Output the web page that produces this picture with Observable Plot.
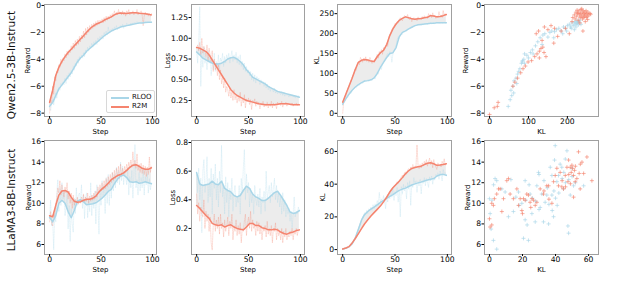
<!DOCTYPE html>
<html><head><meta charset="utf-8">
<script src="https://cdn.jsdelivr.net/npm/d3@7"></script>
<script src="https://cdn.jsdelivr.net/npm/@observablehq/plot@0.6"></script>
<style>
body{margin:0;background:#fff;}
#wrap{position:relative;width:619px;height:282px;font-family:"DejaVu Sans",sans-serif;overflow:hidden;}
#wrap svg{max-width:none;}
.rowlabel{position:absolute;font-size:10.5px;white-space:nowrap;transform:translate(-50%,-50%) rotate(-90deg);color:#111;line-height:1;}
.legend{position:absolute;left:106px;top:90px;width:47px;height:21px;border:1px solid #d8d8d8;border-radius:2px;background:rgba(255,255,255,0.85);}
.legend .sw{position:absolute;left:4px;width:18px;height:1.5px;}
.legend .lt{position:absolute;left:25px;font-size:7px;line-height:1;color:#111;}
</style></head><body><div id="wrap"></div>
<script>
// ---------- data ----------
const series = ["RLOO", "R2M"];
const rowNames = ["Qwen2.5-3B-Instruct", "LLaMA3-8B-Instruct"];
const steps = d3.range(100);            // raw logging steps
const smoothSteps = d3.range(0, 100, 3); // smoothed curve steps

// Qwen2.5-3B reward
const qRewardRaw_RLOO = [-7.6,-7.8,-7.3,-7.0,-7.4,-6.9,-6.5,-6.9,-6.3,-6.1,
 -6.3,-5.8,-6.0,-5.7,-5.9,-5.4,-5.8,-5.2,-5.5,-5.0,
 -5.3,-4.8,-5.1,-4.5,-4.8,-4.3,-4.5,-4.0,-4.3,-3.8,
 -4.0,-3.7,-3.9,-3.5,-3.8,-3.3,-3.5,-3.1,-3.4,-3.0,
 -3.2,-2.8,-3.1,-2.7,-2.9,-2.6,-2.9,-2.4,-2.7,-2.3,
 -2.5,-2.2,-2.5,-2.0,-2.3,-1.9,-2.2,-1.6,-2.0,-1.8,
 -1.9,-1.7,-1.9,-1.6,-1.8,-1.5,-1.8,-1.6,-1.7,-1.5,
 -1.6,-1.4,-1.7,-1.5,-1.6,-1.3,-1.5,-1.4,-1.5,-1.3,
 -1.45,-1.3,-1.4,-1.25,-1.4,-1.2,-1.35,-1.3,-1.3,-1.2,
 -1.35,-1.25,-1.3,-1.2,-1.3,-1.2,-1.28,-1.22,-1.3,-1.2];
const qRewardRaw_R2M = [-8.0,-7.0,-7.3,-6.0,-6.6,-5.3,-5.6,-4.9,-5.0,-4.4,
 -4.6,-4.0,-4.3,-3.9,-4.1,-3.6,-3.9,-3.4,-3.7,-3.3,
 -3.5,-3.0,-3.3,-2.8,-3.2,-2.6,-3.0,-2.5,-2.9,-2.3,
 -2.7,-2.2,-2.5,-1.9,-2.4,-1.7,-2.2,-1.6,-2.0,-1.5,
 -1.8,-1.4,-1.7,-1.3,-1.6,-1.2,-1.5,-1.1,-1.4,-1.1,
 -1.3,-1.0,-1.3,-0.9,-1.2,-0.8,-1.1,-0.8,-1.0,-0.7,
 -0.9,-0.6,-0.8,-0.4,-0.7,-0.5,-0.7,-0.3,-0.6,-0.5,
 -0.7,-0.4,-0.7,-0.5,-0.8,-0.4,-0.6,-0.3,-0.7,-0.5,
 -0.6,-0.4,-0.7,-0.5,-0.6,-0.3,-0.7,-0.5,-0.6,-0.4,
 -0.7,-1.5,-0.8,-0.5,-0.7,-0.6,-0.8,-0.6,-0.8,-0.6];
const qRewardSmooth_RLOO = [-7.5,-7.2,-6.7,-6.2,-5.9,-5.6,-5.3,-5.0,-4.6,-4.2,-3.9,-3.7,-3.4,-3.2,-3.0,-2.8,-2.6,-2.4,-2.2,-2.05,-1.9,-1.8,-1.7,-1.6,-1.55,-1.5,-1.45,-1.4,-1.35,-1.3,-1.3,-1.27,-1.25,-1.25];
const qRewardSmooth_R2M = [-7.2,-6.3,-5.2,-4.6,-4.15,-3.8,-3.5,-3.25,-3.0,-2.75,-2.5,-2.25,-2.0,-1.75,-1.55,-1.4,-1.3,-1.2,-1.05,-0.95,-0.85,-0.7,-0.6,-0.57,-0.58,-0.6,-0.57,-0.55,-0.55,-0.58,-0.6,-0.62,-0.66,-0.7];

// Qwen2.5-3B loss
const qLossRaw_RLOO = [0.84,0.70,0.95,1.38,0.42,0.85,0.65,0.90,0.70,0.78,
 0.62,0.85,0.70,0.80,0.55,0.75,0.62,0.82,0.60,0.72,
 0.65,0.80,0.62,0.76,0.72,0.82,0.66,0.78,0.70,0.80,
 0.74,0.82,0.70,0.78,0.85,0.72,0.80,0.74,0.83,0.70,
 0.78,0.68,0.80,0.66,0.72,0.62,0.70,0.60,0.66,0.58,
 0.62,0.55,0.60,0.50,0.58,0.48,0.56,0.46,0.54,0.50,
 0.52,0.44,0.50,0.46,0.48,0.42,0.47,0.40,0.45,0.38,
 0.42,0.36,0.40,0.38,0.35,0.40,0.34,0.37,0.33,0.36,
 0.34,0.32,0.36,0.31,0.35,0.30,0.34,0.31,0.33,0.29,
 0.33,0.30,0.32,0.29,0.31,0.28,0.30,0.29,0.31,0.28];
const qLossRaw_R2M = [0.88,0.92,0.85,0.95,0.80,1.00,0.82,0.90,0.86,0.78,
 0.92,0.72,0.88,0.80,0.70,0.85,0.60,0.75,0.62,0.70,
 0.55,0.68,0.50,0.62,0.45,0.55,0.40,0.52,0.35,0.42,
 0.38,0.30,0.40,0.28,0.35,0.25,0.38,0.26,0.32,0.22,
 0.30,0.24,0.35,0.18,0.28,0.22,0.32,0.16,0.27,0.24,
 0.28,0.20,0.26,0.14,0.25,0.22,0.27,0.18,0.24,0.20,
 0.23,0.15,0.22,0.19,0.24,0.17,0.21,0.18,0.23,0.16,
 0.21,0.18,0.24,0.16,0.22,0.19,0.21,0.15,0.23,0.20,
 0.22,0.19,0.24,0.17,0.22,0.20,0.23,0.18,0.22,0.20,
 0.21,0.19,0.22,0.18,0.21,0.20,0.22,0.19,0.21,0.19];
const qLossSmooth_RLOO = [0.835,0.80,0.76,0.74,0.72,0.70,0.69,0.69,0.70,0.72,0.75,0.765,0.77,0.75,0.72,0.68,0.62,0.58,0.53,0.51,0.49,0.47,0.45,0.42,0.40,0.38,0.36,0.35,0.34,0.33,0.32,0.31,0.30,0.29];
const qLossSmooth_R2M = [0.89,0.88,0.86,0.84,0.80,0.74,0.68,0.62,0.56,0.50,0.44,0.38,0.34,0.31,0.29,0.27,0.25,0.24,0.23,0.22,0.21,0.205,0.20,0.20,0.20,0.20,0.205,0.21,0.21,0.21,0.205,0.20,0.20,0.20];

// Qwen2.5-3B KL
const qKLRaw_RLOO = [20,28,32,36,42,40,48,52,50,58,
 60,62,66,64,70,72,70,76,78,75,
 80,83,80,82,84,80,83,86,82,88,
 90,86,96,102,98,112,118,110,126,130,
 136,138,146,150,142,155,148,128,150,158,
 162,170,185,192,188,196,200,198,205,204,
 208,206,212,210,215,214,218,216,220,218,
 221,220,223,222,224,221,225,222,224,225,
 226,223,226,225,227,224,226,228,225,227,
 228,226,227,225,228,226,227,229,226,227];
const qKLRaw_R2M = [0,30,38,45,55,62,66,75,80,90,
 95,100,112,108,125,130,122,140,135,128,
 138,132,142,130,136,128,140,133,125,132,
 128,135,140,148,138,155,150,160,148,165,
 160,170,175,168,190,198,200,210,215,218,
 225,222,230,228,235,240,236,232,240,245,
 243,240,248,238,235,242,230,236,240,234,
 238,232,242,236,240,235,243,238,245,240,
 242,238,250,244,248,240,252,242,246,238,
 244,240,255,242,246,240,258,245,250,246];
const qKLSmooth_RLOO = [23,36,48,58,66,72,77,81,82,84,89,100,115,128,140,150,152,165,192,203,207,212,216,220,222,223,224,225,226,226,227,227,227,227];
const qKLSmooth_R2M = [28,48,68,88,110,128,133,135,134,131,130,142,152,158,172,195,212,224,233,238,242,240,237,236,237,238,240,241,245,244,242,243,245,248];

// Qwen2.5-3B reward vs KL scatter: [KL, reward]
const qScatter_RLOO = [[48,-7.5],[53,-7.0],[57,-6.7],[55,-6.3],[60,-6.0],[63,-5.6],[68,-5.4],[72,-5.1],[75,-4.9],[78,-4.7],
 [82,-4.3],[85,-4.1],[88,-4.0],[84,-4.2],[90,-3.6],[96,-3.7],[105,-3.5],[110,-3.3],[118,-3.0],[124,-2.7],
 [130,-2.4],[137,-2.2],[142,-2.1],[150,-2.35],[155,-2.0],[160,-1.9],[167,-1.95],[172,-1.8],[178,-1.7],[184,-1.9],
 [190,-1.6],[195,-1.7],[200,-1.5],[205,-1.4],[208,-1.6],[212,-1.3],[215,-1.5],[218,-1.25],[220,-1.4],[222,-1.2],
 [224,-1.35],[225,-1.15],[226,-1.3],[228,-1.45],[230,-1.25],[232,-1.1],[235,-1.4],[222,-1.6],[218,-1.8],[210,-1.7],
 [198,-1.9],[188,-2.1],[165,-2.4],[135,-2.9],[112,-3.6],[70,-5.8],[62,-6.5],[90,-4.3],[100,-3.9],[228,-1.2]];
const qScatter_R2M = [[0,-8.1],[12,-7.6],[22,-7.2],[20,-7.5],[60,-6.0],[65,-5.7],[72,-5.4],[80,-5.0],[86,-4.7],[92,-4.5],
 [99,-4.2],[108,-4.1],[116,-3.8],[122,-3.6],[128,-3.4],[132,-3.2],[137,-3.1],[140,-3.5],[145,-3.8],[128,-3.9],
 [135,-2.6],[120,-2.1],[126,-1.9],[141,-1.6],[150,-1.8],[158,-1.5],[167,-1.7],[165,-2.8],[175,-2.3],[184,-1.9],
 [195,-1.7],[205,-2.1],[212,-1.2],[214,-0.9],[218,-0.7],[220,-1.0],[222,-0.5],[224,-0.8],[226,-0.6],[228,-1.1],
 [230,-0.4],[231,-0.7],[233,-0.9],[234,-0.6],[235,-0.3],[236,-0.8],[238,-0.5],[239,-1.0],[240,-0.7],[241,-0.4],
 [242,-0.9],[243,-0.6],[244,-0.8],[245,-0.5],[246,-1.2],[247,-0.7],[248,-0.4],[249,-0.9],[250,-0.6],[252,-0.8],
 [253,-0.5],[255,-0.7],[258,-0.6],[260,-0.65],[240,-1.9],[232,-1.3],[225,-0.35],[237,-0.25],[252,-1.05],[228,-0.55]];

// LLaMA3-8B reward
const lRewardRaw_RLOO = [8.5,10.3,7.8,8.4,5.5,9.0,8.2,11.0,12.3,9.2,
 11.5,9.8,12.0,10.4,11.2,8.8,9.5,11.0,7.5,9.8,
 6.3,9.5,8.0,7.2,10.5,9.0,11.5,9.8,10.8,11.0,
 10.2,11.8,9.5,10.8,8.5,10.6,11.0,8.6,10.4,9.2,
 12.0,8.8,10.8,9.5,11.2,8.0,11.8,10.2,7.0,11.5,
 9.8,12.2,10.6,11.8,9.0,12.5,10.0,12.8,9.8,12.3,
 10.5,13.0,11.2,12.8,11.5,13.5,12.0,13.2,11.8,14.0,
 12.2,13.6,11.8,13.0,12.5,11.8,13.4,10.8,12.6,11.5,
 13.2,10.5,12.8,15.7,11.5,12.3,10.8,13.0,11.2,12.5,
 11.5,13.2,10.8,12.6,11.8,12.9,11.0,12.4,11.3,12.0];
const lRewardRaw_R2M = [8.2,9.2,8.0,7.8,9.0,8.6,10.0,10.5,11.5,11.0,
 12.2,10.8,11.8,11.2,10.6,11.6,11.0,12.0,10.4,11.2,
 10.0,11.0,9.5,10.8,9.8,10.4,10.0,10.6,9.9,10.3,
 10.0,10.6,10.2,10.9,10.1,10.6,10.2,11.0,10.0,10.7,
 10.2,10.8,10.3,11.0,10.4,11.2,10.6,11.6,11.0,11.8,
 11.2,12.0,11.3,12.2,11.4,12.4,11.6,12.6,11.8,12.8,
 12.0,13.0,12.2,13.2,12.4,13.4,12.6,13.6,12.4,13.8,
 12.6,13.4,12.8,13.6,13.0,13.8,13.2,14.0,13.4,14.2,
 13.5,15.0,13.6,14.2,13.4,14.8,13.2,13.8,13.0,13.9,
 12.9,13.7,12.8,13.6,12.6,13.5,12.8,14.5,13.0,13.6];
const lRewardSmooth_RLOO = [8.65,8.2,8.8,10.0,10.3,10.0,9.2,8.6,9.3,10.2,10.35,10.15,9.85,9.9,9.95,10.05,10.25,10.5,10.8,11.15,11.35,11.9,12.35,12.65,12.75,12.5,12.1,12.05,12.1,11.95,12.0,12.1,12.0,11.9];
const lRewardSmooth_R2M = [8.8,8.7,9.8,10.8,11.2,11.25,11.1,10.6,10.2,10.1,10.15,10.3,10.4,10.4,10.5,10.7,11.1,11.4,11.65,11.95,12.3,12.5,12.7,12.8,12.95,13.2,13.5,13.7,13.75,13.6,13.4,13.3,13.3,13.45];

// LLaMA3-8B loss
const lLossRaw_RLOO = [0.58,0.45,0.62,0.40,0.55,0.17,0.60,0.68,0.45,0.52,
 0.70,0.38,0.55,0.42,0.62,0.30,0.58,0.48,0.65,0.40,
 0.55,0.35,0.60,0.45,0.78,0.42,0.50,0.30,0.56,0.38,
 0.52,0.28,0.48,0.40,0.55,0.32,0.45,0.50,0.35,0.42,
 0.38,0.50,0.30,0.55,0.45,0.62,0.75,0.40,0.58,0.45,
 0.52,0.35,0.48,0.38,0.45,0.30,0.50,0.40,0.36,0.44,
 0.35,0.48,0.30,0.42,0.38,0.46,0.32,0.60,0.40,0.45,
 0.50,0.38,0.52,0.42,0.48,0.55,0.40,0.50,0.38,0.45,
 0.35,0.42,0.30,0.45,0.32,0.40,0.28,0.36,0.30,0.34,
 0.25,0.32,0.20,0.30,0.42,0.28,0.32,0.30,0.35,0.32];
const lLossRaw_R2M = [0.44,0.30,0.38,0.25,0.35,0.30,0.28,0.40,0.20,0.32,
 0.25,0.30,0.18,0.28,0.10,0.05,0.22,0.30,0.18,0.26,
 0.20,0.28,0.16,0.30,0.20,0.24,0.14,0.26,0.18,0.22,
 0.28,0.15,0.25,0.20,0.30,0.12,0.22,0.18,0.26,0.15,
 0.22,0.16,0.24,0.10,0.20,0.18,0.25,0.30,0.15,0.24,
 0.28,0.20,0.32,0.18,0.26,0.20,0.22,0.15,0.25,0.18,
 0.24,0.16,0.22,0.12,0.20,0.18,0.22,0.14,0.25,0.16,
 0.20,0.15,0.22,0.10,0.20,0.18,0.24,0.12,0.20,0.15,
 0.18,0.12,0.20,0.10,0.18,0.14,0.20,0.12,0.16,0.14,
 0.18,0.15,0.20,0.12,0.18,0.16,0.20,0.15,0.19,0.18];
const lLossSmooth_RLOO = [0.59,0.51,0.50,0.505,0.51,0.53,0.51,0.505,0.53,0.48,0.465,0.455,0.43,0.42,0.43,0.465,0.495,0.48,0.44,0.42,0.41,0.395,0.395,0.41,0.43,0.45,0.46,0.43,0.395,0.36,0.315,0.305,0.31,0.325];
const lLossSmooth_R2M = [0.36,0.34,0.315,0.29,0.27,0.235,0.225,0.22,0.225,0.21,0.22,0.225,0.21,0.20,0.195,0.19,0.21,0.235,0.235,0.22,0.22,0.205,0.20,0.19,0.19,0.195,0.19,0.175,0.165,0.16,0.17,0.175,0.185,0.19];

// LLaMA3-8B KL
const lKLRaw_RLOO = [0.3,0.5,0.4,0.8,1.0,1.2,1.5,2.0,2.8,3.5,
 4.5,6.0,7.0,9.0,10.5,12.0,14.0,16.5,18.0,20.0,
 21.0,22.5,21.0,24.0,22.0,25.0,23.5,26.0,24.0,27.5,
 25.0,28.0,26.5,30.0,27.0,35.0,28.5,31.0,29.0,33.0,
 30.0,25.0,32.5,29.0,34.0,31.0,36.0,32.0,37.0,30.0,
 35.5,33.0,38.0,29.0,36.0,20.0,38.5,34.0,40.0,36.0,
 39.0,31.0,41.0,37.0,42.0,27.0,40.0,38.0,44.0,40.0,
 42.0,35.0,41.5,39.0,43.0,34.0,42.0,40.5,44.0,39.0,
 43.5,41.0,38.0,44.5,42.0,45.0,40.0,44.0,42.5,46.0,
 44.5,47.0,43.0,48.0,46.0,42.0,49.0,46.5,47.0,45.0];
const lKLRaw_R2M = [0.2,0.5,0.6,1.0,0.8,1.5,1.8,2.5,3.0,4.0,
 4.8,5.5,6.5,7.0,8.5,9.5,10.5,12.0,13.0,14.5,
 15.0,16.0,17.0,17.5,18.5,19.5,20.0,21.0,21.5,22.0,
 22.5,23.5,24.0,25.0,25.5,26.0,27.0,28.0,28.5,29.5,
 30.5,31.5,32.0,33.5,34.5,35.5,36.5,37.5,38.0,39.0,
 39.5,40.0,41.5,40.5,42.5,43.0,44.5,45.5,44.0,47.0,
 47.5,46.0,48.5,49.5,48.0,50.5,49.0,52.0,50.0,51.0,
 50.5,64.0,51.5,49.5,52.0,50.0,53.0,51.0,54.0,52.5,
 55.0,51.0,53.5,56.0,52.0,54.5,50.0,55.0,52.0,50.5,
 49.0,53.0,51.0,52.0,50.5,54.0,52.0,55.5,51.5,53.0];
const lKLSmooth_RLOO = [0.4,0.8,1.7,3.5,7,12.5,18,21.5,23.3,24.8,26,27.3,28.8,30,31.3,32.5,33.6,35,36.2,37,37.6,38.6,39.5,40.2,40.8,41.3,41.9,42.5,43,43.4,45,45.8,46,45.4];
const lKLSmooth_R2M = [0.4,1,1.8,4,6.8,9.8,12.8,15.8,18.2,20.5,22.6,24.6,26.6,29.2,32,35.2,37.8,39.8,41.8,44,46.4,48.2,49.6,50.2,50.7,51,52,52.8,53.1,52.5,51.5,51.7,52,52.5];

// LLaMA3-8B reward vs KL scatter: [KL, reward]
const lScatter_RLOO = [[0,10.45],[0.4,9.0],[1,7.5],[2.4,6.4],[4.4,5.55],[3.4,12.4],[4.4,12.2],[1.5,10.3],[2.5,11.8],[7.5,11.4],
 [9.5,11.1],[11.5,8.7],[14.5,9.2],[13,12.3],[17.6,11.1],[19.6,10.0],[20.6,6.6],[21.6,8.4],[22.8,7.9],[23.6,6.4],
 [21.6,12.2],[24.6,10.9],[25.7,9.0],[27.7,8.2],[28.7,11.7],[29.7,13.0],[30.7,9.6],[31.7,10.9],[32.7,8.2],[33.7,10.1],
 [34.7,10.8],[35.8,8.0],[36.8,13.5],[37.8,12.7],[37.8,10.8],[38.8,8.7],[39.4,14.2],[39.8,15.6],[40.8,12.1],[41.8,12.7],
 [42.8,13.8],[43.8,13.5],[44.8,11.4],[45.9,14.3],[46.9,15.1],[47.5,7.8],[47.9,7.1],[48.9,10.8],[49.9,13.4],[50.9,11.7],
 [57,11.7],[26,10.5],[28,10.2],[30,9.4],[36,9.9],[38,9.3],[40,10.5],[42,11.0],[44,12.4],[46,12.0],
 [35,11.5],[33,12.2],[18,9.8],[16,10.6],[22,10.3],[24,11.8],[45,13.0],[48,12.3],[50,12.6],[52,12.0],
 [39,11.2],[41,9.8],[30,12.8]];
const lScatter_R2M = [[0,8.5],[0.4,7.7],[1.4,7.9],[1.4,10.0],[2.4,9.8],[3,10.45],[4.4,10.9],[5.5,11.4],[6.5,11.4],[7.5,9.2],
 [8.5,10.45],[10.5,12.2],[11.5,12.4],[12.5,10.9],[14.5,10.45],[16.6,11.4],[17.6,9.8],[18.6,10.45],[19.6,9.3],[20.6,10.45],
 [21.6,10.3],[22.6,10.9],[23.6,10.8],[24.6,10.1],[25.7,10.45],[26.7,10.3],[27.7,9.8],[28.7,10.1],[30.7,11.4],[32.7,10.9],
 [34.7,11.7],[35.8,11.7],[37.8,10.0],[38.8,12.1],[39.8,12.7],[40.8,13.4],[41.8,11.7],[42.8,13.0],[43.8,11.6],[44.8,11.4],
 [45.9,12.7],[46.9,13.5],[47.5,12.1],[47.9,14.2],[48.9,13.5],[49.5,13.0],[49.9,13.7],[50.3,13.4],[50.9,12.7],[51.5,13.2],
 [51.9,12.1],[50.9,10.6],[52.9,12.4],[53.9,15.0],[54.3,12.9],[54.9,11.4],[56,14.0],[57,12.9],[59,14.5],[62,12.2],
 [20,9.0],[25,9.6],[44,12.2],[46,11.6],[48,12.8],[52,13.6],[55,13.8],[49,11.9],[36,10.4],[33,11.2]];

// tick values
const stepTicks = [0, 50, 100];
const qRewardTicks = [0, -2, -4, -6, -8];
const qLossTicks = [0.25, 0.5, 0.75, 1.0, 1.25];
const qKLTicks = [0, 50, 100, 150, 200, 250];
const qKLScatterTicks = [0, 100, 200];
const lRewardTicks = [6, 8, 10, 12, 14, 16];
const lLossTicks = [0.2, 0.4, 0.6, 0.8];
const lKLTicks = [0, 20, 40, 60];

// ---------- drawing ----------
const BLUE = "#a9d6e8", RED = "#f5846f";
const wrap = document.getElementById("wrap");
const COLX = [44, 191, 337, 484], COLW = [112, 113, 114, 114];
const ROWY = [4, 140], ROWH = [112, 114];
const STEP_DOMAIN = [-4.95, 103.95];

function rowsRaw(a, b) { return steps.map((s, i) => ({step: s, a: a[i], b: b[i]})); }
function rowsSmooth(a, b) { return smoothSteps.map((s, i) => ({step: s, a: a[i], b: b[i]})); }

function lineMarks(rawA, rawB, smA, smB) {
  const raw = rowsRaw(rawA, rawB), sm = rowsSmooth(smA, smB);
  return [
    Plot.areaY(sm, {x: "step", y1: "a", y2: "b", fill: "#d4d4d4", fillOpacity: 0.45}),
    Plot.line(raw, {x: "step", y: "a", stroke: BLUE, strokeWidth: 0.55, strokeDasharray: "1.5,1", strokeOpacity: 0.5}),
    Plot.line(raw, {x: "step", y: "b", stroke: RED, strokeWidth: 0.55, strokeDasharray: "1.5,1", strokeOpacity: 0.5}),
    Plot.line(sm, {x: "step", y: "a", stroke: BLUE, strokeWidth: 1.5}),
    Plot.line(sm, {x: "step", y: "b", stroke: RED, strokeWidth: 1.5})
  ];
}
function scatterMarks(A, B) {
  return [
    Plot.dot(A, {x: d => d[0], y: d => d[1], symbol: "plus", r: 1.4, stroke: BLUE, strokeWidth: 1, strokeOpacity: 0.65}),
    Plot.dot(B, {x: d => d[0], y: d => d[1], symbol: "plus", r: 1.4, stroke: RED, strokeWidth: 1, strokeOpacity: 0.65})
  ];
}

function panel(p) {
  const ML = 34, MR = 3, MT = 3, MB = 30;
  const fx = COLX[p.col], fw = COLW[p.col], fy = ROWY[p.row], fh = ROWH[p.row];
  const chart = Plot.plot({
    width: ML + fw + MR, height: MT + fh + MB,
    marginLeft: ML, marginRight: MR, marginTop: MT, marginBottom: MB,
    style: {fontFamily: "DejaVu Sans", fontSize: "7.6px", background: "transparent", color: "#000", overflow: "visible"},
    x: {domain: p.xd}, y: {domain: p.yd},
    marks: [
      ...p.marks,
      Plot.frame({stroke: "#a0a0a0", strokeWidth: 1}),
      Plot.axisX({ticks: p.xt, tickFormat: p.xf, tickSize: 2, tickPadding: 0, label: null}),
      Plot.axisY({ticks: p.yt, tickFormat: p.yf, tickSize: 2.5, tickPadding: 1, label: null}),
      Plot.text([p.xl], {text: d => d, frameAnchor: "bottom", lineAnchor: "middle", textAnchor: "middle", dy: p.xlOff, fontSize: 7}),
      Plot.text([p.yl], {text: d => d, frameAnchor: "left", lineAnchor: "middle", textAnchor: "middle", dx: -p.ylOff, rotate: -90, fontSize: 7})
    ]
  });
  chart.style.position = "absolute";
  chart.style.left = (fx - ML) + "px";
  chart.style.top = (fy - MT) + "px";
  wrap.appendChild(chart);
}

const fInt = d3.format("d"), f2 = d3.format(".2f"), f1 = d3.format(".1f");

panel({col: 0, row: 0, xd: STEP_DOMAIN, yd: [-8.25, 0.07], xt: stepTicks, yt: qRewardTicks, xf: fInt, yf: fInt,
  xl: "Step", yl: "Reward", xlOff: 15, ylOff: 17,
  marks: lineMarks(qRewardRaw_RLOO, qRewardRaw_R2M, qRewardSmooth_RLOO, qRewardSmooth_R2M)});
panel({col: 1, row: 0, xd: STEP_DOMAIN, yd: [0.057, 1.407], xt: stepTicks, yt: qLossTicks, xf: fInt, yf: f2,
  xl: "Step", yl: "Loss", xlOff: 15, ylOff: 24,
  marks: lineMarks(qLossRaw_RLOO, qLossRaw_R2M, qLossSmooth_RLOO, qLossSmooth_R2M)});
panel({col: 2, row: 0, xd: STEP_DOMAIN, yd: [-8, 273], xt: stepTicks, yt: qKLTicks, xf: fInt, yf: fInt,
  xl: "Step", yl: "KL", xlOff: 15, ylOff: 21,
  marks: lineMarks(qKLRaw_RLOO, qKLRaw_R2M, qKLSmooth_RLOO, qKLSmooth_R2M)});
panel({col: 3, row: 0, xd: [-13, 280], yd: [-8.25, 0.07], xt: qKLScatterTicks, yt: qRewardTicks, xf: fInt, yf: fInt,
  xl: "KL", yl: "Reward", xlOff: 15, ylOff: 19,
  marks: scatterMarks(qScatter_RLOO, qScatter_R2M)});

panel({col: 0, row: 1, xd: STEP_DOMAIN, yd: [5.03, 16.1], xt: stepTicks, yt: lRewardTicks, xf: fInt, yf: fInt,
  xl: "Step", yl: "Reward", xlOff: 15, ylOff: 16,
  marks: lineMarks(lRewardRaw_RLOO, lRewardRaw_R2M, lRewardSmooth_RLOO, lRewardSmooth_R2M)});
panel({col: 1, row: 1, xd: STEP_DOMAIN, yd: [0.018, 0.814], xt: stepTicks, yt: lLossTicks, xf: fInt, yf: f1,
  xl: "Step", yl: "Loss", xlOff: 15, ylOff: 19,
  marks: lineMarks(lLossRaw_RLOO, lLossRaw_R2M, lLossSmooth_RLOO, lLossSmooth_R2M)});
panel({col: 2, row: 1, xd: STEP_DOMAIN, yd: [-3, 66.7], xt: stepTicks, yt: lKLTicks, xf: fInt, yf: fInt,
  xl: "Step", yl: "KL", xlOff: 15, ylOff: 15,
  marks: lineMarks(lKLRaw_RLOO, lKLRaw_R2M, lKLSmooth_RLOO, lKLSmooth_R2M)});
panel({col: 3, row: 1, xd: [-3, 66], yd: [5.03, 16.1], xt: lKLTicks, yt: lRewardTicks, xf: fInt, yf: fInt,
  xl: "KL", yl: "Reward", xlOff: 15, ylOff: 17,
  marks: scatterMarks(lScatter_RLOO, lScatter_R2M)});

// row labels
[[rowNames[0], 65], [rowNames[1], 200]].forEach(([t, y]) => {
  const d = document.createElement("div");
  d.className = "rowlabel"; d.textContent = t;
  d.style.left = "11px"; d.style.top = y + "px";
  wrap.appendChild(d);
});

// legend (first panel)
const lg = document.createElement("div");
lg.className = "legend";
[[series[0], BLUE, 6], [series[1], RED, 15]].forEach(([t, c, y]) => {
  const sw = document.createElement("div"); sw.className = "sw"; sw.style.background = c; sw.style.top = y + "px";
  const lt = document.createElement("div"); lt.className = "lt"; lt.textContent = t; lt.style.top = (y - 3) + "px";
  lg.appendChild(sw); lg.appendChild(lt);
});
wrap.appendChild(lg);
</script></body></html>
